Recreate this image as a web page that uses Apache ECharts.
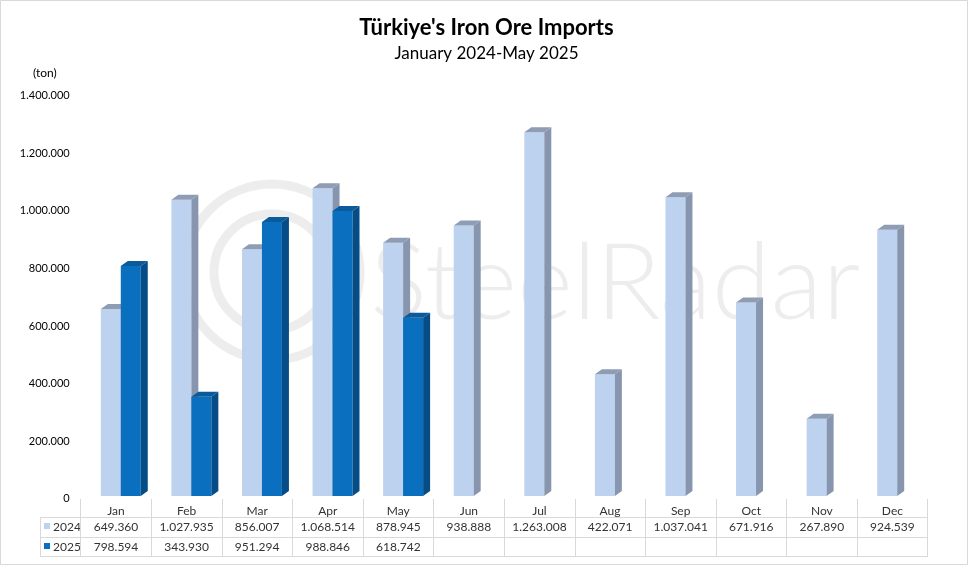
<!DOCTYPE html>
<html>
<head>
<meta charset="utf-8">
<script src="https://cdn.jsdelivr.net/npm/echarts@6/dist/echarts.min.js"></script>
<style>html,body{margin:0;padding:0;background:#fff}#c{width:973px;height:566px}</style>
</head>
<body>
<div id="c"></div>
<script>
const categories = ['Jan','Feb','Mar','Apr','May','Jun','Jul','Aug','Sep','Oct','Nov','Dec'];
const values2024 = [649360, 1027935, 856007, 1068514, 878945, 938888, 1263008, 422071, 1037041, 671916, 267890, 924539];
const values2025 = [798594, 343930, 951294, 988846, 618742];
const seriesNames = ['2024', '2025'];
const yTicks = [0, 200000, 400000, 600000, 800000, 1000000, 1200000, 1400000];

const FONT = 'Lato, "Open Sans", sans-serif';
function fmt(v){ return String(v).replace(/\B(?=(\d{3})+(?!\d))/g, '.'); }

const colors = {
  '2024': {front:'#BDD2EE', side:'#8796AE', top:'#8E9DB4'},
  '2025': {front:'#0A6FBE', side:'#064C86', top:'#0B5A9C'}
};

function barRender(name, offsetFrac){
  return function(params, api){
    const idx = api.value(0), v = api.value(1);
    const bw = api.size([1,0])[0];
    const c0 = api.coord([idx, 0]);
    const cv = api.coord([idx, v]);
    const w = bw * 0.283;
    const xl = c0[0] + bw * offsetFrac;
    const xr = xl + w;
    const lift = 3;
    const yb = c0[1] - lift;
    const yt = cv[1] - lift;
    const dx = 7, dy = 5;
    const col = colors[name];
    return {
      type:'group',
      children:[
        {type:'rect', shape:{x:xl, y:yt, width:w, height:yb-yt}, style:{fill:col.front}},
        {type:'polygon', shape:{points:[[xr,yt],[xr+dx,yt-dy],[xr+dx,yb-dy],[xr,yb]]}, style:{fill:col.side}},
        {type:'polygon', shape:{points:[[xl,yt],[xl+dx,yt-dy],[xr+dx,yt-dy],[xr,yt]]}, style:{fill:col.top}}
      ]
    };
  };
}

function tableRender(rowY){
  return function(params, api){
    const idx = api.value(0), v = api.value(1);
    const c = api.coord([idx, 0]);
    return {type:'text', x:c[0], y:rowY, style:{text:fmt(v), fill:'#333', font:'12px ' + FONT, align:'center', verticalAlign:'middle'}};
  };
}

const d2024 = values2024.map((v,i)=>[i,v]);
const d2025 = values2025.map((v,i)=>[i,v]);

const chart = echarts.init(document.getElementById('c'), null, {renderer:'canvas'});
const gridLeft = 80.7, gridRight = 45.3, gridTop = 95.7, gridBottom = 67.1;
const tableLeft = 40, tableRight = 973 - gridRight;
const lineColor = '#D9D9D9';

chart.setOption({
  animation:false,
  backgroundColor:'#fff',
  title:[
    {text:"Türkiye's Iron Ore Imports", left:'center', top:12, textStyle:{fontFamily:FONT, fontSize:22, fontWeight:'bold', color:'#000'}},
    {text:'January 2024-May 2025', left:'center', top:40, textStyle:{fontFamily:FONT, fontSize:17, fontWeight:'normal', color:'#000'}}
  ],
  grid:{left:gridLeft, right:gridRight, top:gridTop, bottom:gridBottom, containLabel:false},
  xAxis:{
    type:'category', data:categories, boundaryGap:true,
    axisLine:{show:false},
    axisTick:{show:true, length:58, lineStyle:{color:lineColor}},
    axisLabel:{fontFamily:FONT, fontSize:12, color:'#333', margin:6}
  },
  yAxis:{
    type:'value', min:0, max:1400000, interval:200000,
    axisLine:{show:false}, axisTick:{show:false}, splitLine:{show:false},
    axisLabel:{fontFamily:FONT, fontSize:11, color:'#000', margin:11, formatter:v=>fmt(v)}
  },
  graphic:[
    {type:'rect', z:-10, shape:{x:0.5, y:0.5, width:967, height:564}, style:{fill:'none', stroke:'#D9D9D9', lineWidth:1}},
    {type:'text', z:-5, left:33, top:67, style:{text:'(ton)', font:'12px ' + FONT, fill:'#000'}},
    {type:'circle', z:-5, shape:{cx:272, cy:272, r:88}, style:{fill:'none', stroke:'rgba(0,0,0,0.07)', lineWidth:9}},
    {type:'circle', z:-5, shape:{cx:272, cy:272, r:58}, style:{fill:'none', stroke:'rgba(0,0,0,0.07)', lineWidth:9}},
    {type:'text', z:-5, x:370, y:284, style:{text:'SteelRadar', font:'300 107px ' + FONT, fill:'rgba(0,0,0,0.07)', verticalAlign:'middle'}},
    {type:'line', shape:{x1:tableLeft, y1:517.5, x2:tableRight, y2:517.5}, style:{stroke:lineColor, lineWidth:1}},
    {type:'line', shape:{x1:tableLeft, y1:537.5, x2:tableRight, y2:537.5}, style:{stroke:lineColor, lineWidth:1}},
    {type:'line', shape:{x1:tableLeft, y1:556.5, x2:tableRight, y2:556.5}, style:{stroke:lineColor, lineWidth:1}},
    {type:'line', shape:{x1:tableLeft+0.5, y1:517.5, x2:tableLeft+0.5, y2:556.5}, style:{stroke:lineColor, lineWidth:1}},
    {type:'rect', shape:{x:44, y:523, width:6, height:6}, style:{fill:colors['2024'].front}},
    {type:'rect', shape:{x:44, y:543, width:6, height:6}, style:{fill:colors['2025'].front}},
    {type:'text', x:53, y:527, style:{text:seriesNames[0], font:'12px ' + FONT, fill:'#333', verticalAlign:'middle'}},
    {type:'text', x:53, y:547, style:{text:seriesNames[1], font:'12px ' + FONT, fill:'#333', verticalAlign:'middle'}}
  ],
  series:[
    {name:seriesNames[0], type:'custom', data:d2024, renderItem:barRender('2024', -0.215), encode:{x:0, y:1}, clip:false, z:2},
    {name:seriesNames[1], type:'custom', data:d2025, renderItem:barRender('2025', 0.068), encode:{x:0, y:1}, clip:false, z:2},
    {type:'custom', data:d2024, renderItem:tableRender(527.5), encode:{x:0, y:1}, clip:false, silent:true},
    {type:'custom', data:d2025, renderItem:tableRender(547), encode:{x:0, y:1}, clip:false, silent:true}
  ]
});
</script>
</body>
</html>
